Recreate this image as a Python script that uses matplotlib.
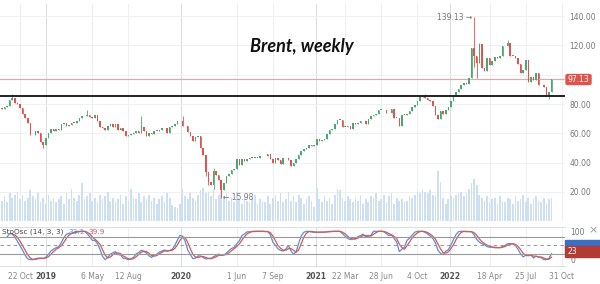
import numpy as np
import pandas as pd
import matplotlib
matplotlib.use("Agg")
import matplotlib.pyplot as plt
import matplotlib.dates as mdates
from matplotlib.patches import FancyBboxPatch

# weekly Brent closes, week starting monday (Jun 2018 .. Oct 2022)
close_2018 = [76.5, 73.4, 75.6, 79.4, 77.1, 75.3, 73.1, 74.3, 73.2, 72.8, 71.8, 75.8, 77.4,
              76.8, 78.1, 78.8, 82.7, 84.2, 80.4, 79.8, 77.6, 73.0, 70.2, 66.8, 58.8, 58.7,
              61.7, 60.3, 53.8, 52.2, 57.1]
close_2019 = [60.5, 62.7, 61.6, 62.8, 62.1, 66.3, 67.1, 65.1, 65.7, 67.2, 67.0, 68.4, 70.3,
              71.6, 71.9, 72.2, 70.9, 70.6, 72.2, 68.7, 64.5, 63.3, 62.0, 65.2, 66.6, 64.2,
              66.7, 62.5, 63.5, 61.9, 58.5, 58.6, 59.3, 60.4, 61.5, 60.2, 64.3, 61.9, 58.4,
              60.5, 59.4, 61.9, 61.7, 62.5, 63.3, 63.4, 60.5, 64.4, 65.2, 66.1, 68.2, 68.6]
close_2020 = [65.0, 64.9, 60.7, 58.2, 54.5, 57.3, 58.5, 50.0, 45.3, 33.9, 27.0, 24.9, 34.1,
              31.5, 28.1, 21.4, 26.4, 31.0, 32.5, 35.1, 35.3, 42.3, 38.7, 42.2, 41.0, 42.8,
              43.2, 43.1, 43.3, 43.3, 44.4, 44.8, 44.4, 45.8, 42.7, 39.8, 43.2, 41.9, 39.3,
              42.9, 42.9, 41.8, 37.9, 39.5, 42.8, 45.0, 48.2, 49.3, 50.0, 52.3, 51.3, 51.8]
close_2021 = [56.0, 55.1, 55.4, 55.9, 59.3, 62.4, 62.9, 66.1, 69.4, 69.2, 64.5, 64.6, 64.9,
              63.0, 66.8, 66.1, 67.3, 68.3, 68.7, 66.4, 69.6, 71.9, 72.7, 73.5, 76.2, 76.2,
              75.6, 73.6, 74.1, 76.3, 70.7, 70.6, 65.2, 72.7, 72.6, 72.9, 75.3, 78.1, 79.3,
              82.4, 84.9, 85.5, 84.4, 82.7, 82.2, 78.9, 72.7, 69.9, 75.2, 73.5, 76.1, 77.8]
close_2022 = [81.8, 86.1, 87.9, 90.0, 93.3, 94.4, 93.5, 97.9, 118.1, 112.7, 107.9, 120.7,
              104.4, 102.8, 111.7, 106.7, 109.3, 112.4, 111.6, 112.6, 119.4, 119.7, 122.0,
              113.1, 113.1, 111.6, 107.0, 101.2, 103.2, 110.0, 94.9, 98.2, 96.7, 101.0, 93.0,
              92.8, 91.4, 86.2, 88.0, 97.13]

volume_2018 = [15, 14, 16, 15, 13, 15, 14, 16, 15, 14, 13, 15, 16,
               14, 17, 13, 19, 16, 18, 20, 15, 18, 14, 16, 21, 17, 15, 19, 13, 16, 12]
volume_2019 = [18, 14, 16, 13, 15, 17, 12, 19, 15, 22, 16, 14, 18, 26, 15, 17, 19, 14, 16,
               13, 18, 15, 17, 20, 14, 16, 13, 15, 18, 12, 17, 14, 22, 16, 15, 19, 13, 17,
               15, 18, 14, 16, 12, 15, 17, 13, 19, 16, 11, 10, 9, 12]
volume_2020 = [22, 17, 15, 19, 16, 14, 18, 21, 23, 19, 20, 17, 22, 15, 18, 24, 17, 19, 14,
               16, 13, 20, 15, 12, 17, 14, 13, 16, 18, 12, 15, 14, 13, 17, 12, 16, 18, 14,
               19, 13, 15, 20, 14, 17, 13, 18, 16, 12, 15, 17, 14, 10]
volume_2021 = [23, 15, 13, 17, 14, 16, 12, 18, 22, 21, 16, 14, 17, 15, 13, 16, 14, 18, 12,
               15, 13, 17, 16, 19, 14, 15, 18, 13, 17, 19, 12, 16, 14, 15, 13, 14, 17, 16,
               18, 20, 19, 21, 20, 19, 21, 18, 17, 34, 27, 16, 12, 15]
volume_2022 = [17, 16, 18, 19, 20, 17, 19, 22, 26, 29, 25, 18, 16, 14, 17, 13, 15, 16, 12,
               17, 14, 13, 16, 15, 12, 17, 14, 15, 18, 13, 16, 12, 15, 17, 14, 13, 16, 12,
               15, 16]

# notable wicks (week start -> extreme)
wick_high = {"2018-10-01": 86.74, "2019-04-22": 75.6, "2019-09-16": 71.95,
             "2020-01-06": 71.75, "2020-03-30": 36.0, "2021-10-25": 86.7,
             "2022-03-07": 139.13, "2022-03-21": 121.6, "2022-06-06": 124.0}
wick_low = {"2018-12-24": 50.0, "2020-03-09": 31.0, "2020-03-16": 24.5,
            "2020-03-30": 21.7, "2020-04-20": 15.98, "2022-03-07": 105.6,
            "2022-03-14": 97.44, "2022-09-26": 83.65}

close = close_2018 + close_2019 + close_2020 + close_2021 + close_2022
volume = volume_2018 + volume_2019 + volume_2020 + volume_2021 + volume_2022
dates = pd.date_range("2018-06-04", periods=len(close), freq="W-MON")

opens = [77.0] + close[:-1]
df = pd.DataFrame({"open": opens, "close": close, "volume": volume}, index=dates)
df["high"] = df[["open", "close"]].max(axis=1)
df["low"] = df[["open", "close"]].min(axis=1)
for d, v in wick_high.items():
    df.loc[pd.Timestamp(d), "high"] = v
for d, v in wick_low.items():
    df.loc[pd.Timestamp(d), "low"] = v

# stochastic oscillator (14, 3, 3)
hh = df["high"].rolling(14).max()
ll = df["low"].rolling(14).min()
k_raw = 100 * (df["close"] - ll) / (hh - ll)
k_line = k_raw.rolling(3).mean()
d_line = k_line.rolling(3).mean()

xs = mdates.date2num(df.index)
up = df["close"] >= df["open"]
green = "#4aa873"
red = "#e0534e"

fig = plt.figure(figsize=(6, 2.84), dpi=100)
ax = fig.add_axes([0, 0.2183, 0.9417, 0.7676])
ax2 = fig.add_axes([0, 0.0634, 0.9417, 0.1373], sharex=ax)

ref = mdates.date2num(pd.Timestamp("2018-10-22"))
ppd = 0.3686
ax.set_xlim(ref - 20 / ppd, ref + 545 / ppd)
ax.set_ylim(-0.55, 148.3)
ax2.set_ylim(-22.3, 115.2)

# volume
ax.bar(xs, df["volume"], width=4.6, bottom=0, color="#cddff0", zorder=1)

# candles
cols = np.where(up, green, red)
body_lo = df[["open", "close"]].min(axis=1)
body_h = (df["close"] - df["open"]).abs().clip(lower=0.4)
ax.vlines(xs, df["low"], df["high"], colors=cols, lw=0.6, zorder=2)
ax.bar(xs, body_h, width=4.2, bottom=body_lo, color=cols, zorder=3)

# levels
ax.axhline(97.13, color="#f2a0a0", lw=0.8, zorder=2)
ax.axhline(85.8, color="#222222", lw=1.4, zorder=4)

ax.text(mdates.date2num(pd.Timestamp("2022-03-03")), 139.13, "139.13 \u2192", ha="right",
        va="center", fontsize=5.5, color="#777777")
ax.text(mdates.date2num(pd.Timestamp("2020-04-24")), 15.98, "\u2190 15.98", ha="left",
        va="center", fontsize=5.5, color="#777777")

ax.text(0.503, 0.838, "Brent, weekly", transform=fig.transFigure, ha="center", va="center",
        fontsize=13, fontweight="bold", fontstyle="italic", family="Lato", color="#111111")

# ticks / grid
tick_dates = ["2018-10-22", "2019-01-01", "2019-05-06", "2019-08-12", "2020-01-01",
              "2020-06-01", "2020-09-07", "2021-01-01", "2021-03-22", "2021-06-28",
              "2021-10-04", "2022-01-01", "2022-04-18", "2022-07-25", "2022-10-31"]
tick_labels = ["22 Oct", "2019", "6 May", "12 Aug", "2020", "1 Jun", "7 Sep", "2021",
               "22 Mar", "28 Jun", "4 Oct", "2022", "18 Apr", "25 Jul", "31 Oct"]
tx = mdates.date2num(pd.to_datetime(tick_dates))
for a in (ax, ax2):
    for t, lab in zip(tx, tick_labels):
        c = "#d9dce2" if lab.isdigit() else "#eceef2"
        a.axvline(t, color=c, lw=0.7, zorder=0)

price_ticks = [20, 40, 60, 80, 100, 120, 140]
for p in price_ticks:
    ax.axhline(p, color="#eef0f3", lw=0.7, zorder=0)
ax.yaxis.tick_right()
ax.set_yticks(price_ticks)
ax.set_yticklabels(["%.2f" % p if p != 100 else "" for p in price_ticks])
ax.tick_params(axis="y", length=0, pad=3, labelsize=5.5, labelcolor="#777777")
ax.tick_params(axis="x", bottom=False, labelbottom=False)
for s in ax.spines.values():
    s.set_visible(False)

# price label box
fig.patches.append(FancyBboxPatch((566 / 600, 1 - 84.5 / 284), 25 / 600, 10 / 284,
                                  boxstyle="round,pad=0,rounding_size=0.004",
                                  transform=fig.transFigure, color=red, zorder=5))
fig.text(578.5 / 600, 1 - 79.5 / 284, "97.13", ha="center", va="center", fontsize=5.5,
         color="white", zorder=6)

# stochastic panel
ax2.plot(xs, k_line, color="#5b8fd6", lw=0.9)
ax2.plot(xs, d_line, color="#d45a57", lw=0.9)
ax2.axhline(80, color="#9a9a9a", lw=0.8)
ax2.axhline(20, color="#9a9a9a", lw=0.8)
ax2.axhline(50, color="#9a9a9a", lw=0.8, ls=(0, (3, 3)))
ax2.yaxis.tick_right()
ax2.set_yticks([0, 100])
ax2.tick_params(axis="y", length=0, pad=4, labelsize=5.5, labelcolor="#777777")
ax2.set_xticks(tx)
ax2.set_xticklabels(tick_labels)
ax2.tick_params(axis="x", length=0, pad=4, labelsize=5.5, labelcolor="#888888")
for lab in ax2.get_xticklabels():
    if lab.get_text().isdigit():
        lab.set_fontweight("bold")
        lab.set_color("#555555")
for k, s in ax2.spines.items():
    s.set_visible(k in ("top", "bottom"))
    s.set_color("#dddddd")
    s.set_linewidth(0.7)

fig.text(2 / 600, 1 - 232 / 284, "StoOsc (14, 3, 3)", ha="left", va="center", fontsize=5.3,
         color="#444444")
fig.text(68 / 600, 1 - 232 / 284, "33.1", ha="left", va="center", fontsize=5.3, color="#5b8fd6")
fig.text(88 / 600, 1 - 232 / 284, "39.9", ha="left", va="center", fontsize=5.3, color="#d45a57")
fig.text(593 / 600, 1 - 230 / 284, "\u00d7", ha="center", va="center", fontsize=8,
         color="#999999")

fig.patches.append(plt.Rectangle((565 / 600, 1 - 247 / 284), 35 / 600, 7 / 284,
                                 transform=fig.transFigure, color="#3c6fc4", zorder=5))
fig.patches.append(plt.Rectangle((565 / 600, 1 - 257 / 284), 35 / 600, 11 / 284,
                                 transform=fig.transFigure, color="#b03b37", zorder=6))
fig.text(568 / 600, 1 - 251.5 / 284, "23", ha="left", va="center", fontsize=5.5, color="white",
         zorder=7)

fig.savefig("out.png", dpi=100)
